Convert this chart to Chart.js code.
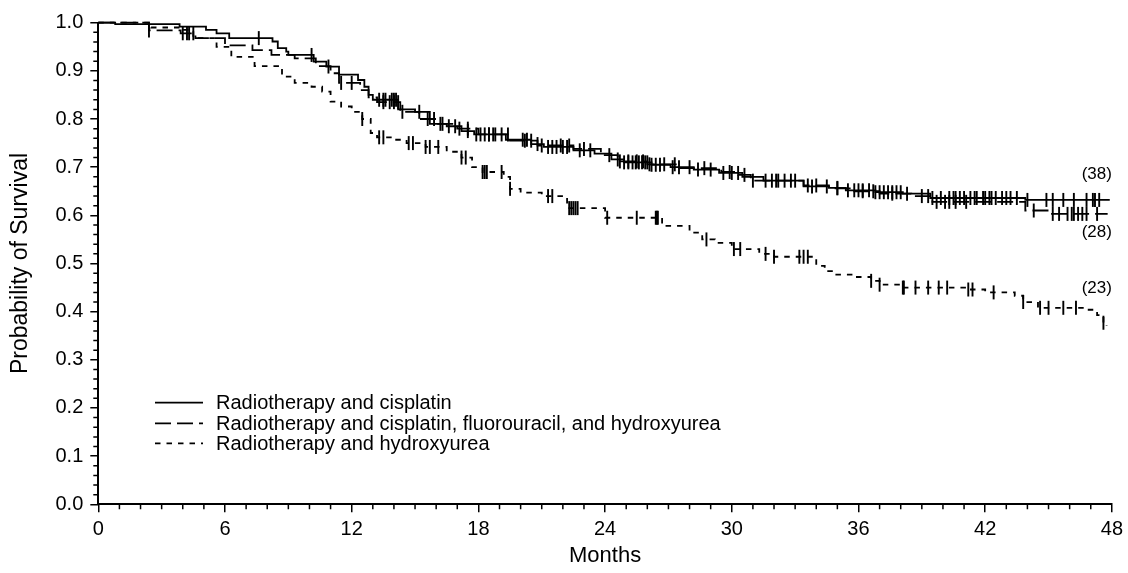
<!DOCTYPE html>
<html>
<head>
<meta charset="utf-8">
<script src="https://cdn.jsdelivr.net/npm/chart.js@4"></script>
<style>
  html, body { margin: 0; background: #fff; }
  #wrap { width: 1128px; height: 573px; position: relative; }
</style>
</head>
<body>
<div id="wrap"><canvas id="km"></canvas></div>
<script>
// Curvas de Kaplan-Meier (meses x probabilidade de sobrevida).
const grupos = [
  "Radiotherapy and cisplatin",
  "Radiotherapy and cisplatin, fluorouracil, and hydroxyurea",
  "Radiotherapy and hydroxyurea",
];

// cisplatina
const cisT = [0, 0.8, 3.85, 5.1, 5.6, 6.2, 8.25, 8.5, 8.9, 9.0, 10.2, 10.8, 11.4, 12.3, 12.6, 12.8, 13.0, 14.2, 15.0, 15.7, 16.5, 17.2, 17.8, 19.3, 20.5, 21.1, 22.5, 23.5, 24.3, 24.9, 26.2, 27.1, 28.2, 29.4, 30.5, 31.5, 33.4, 34.6, 35.4, 36.8, 38.1, 39.4, 43.9, 47.9];
const cisS = [1.0, 0.997, 0.992, 0.985, 0.978, 0.968, 0.961, 0.947, 0.94, 0.933, 0.919, 0.909, 0.892, 0.881, 0.867, 0.85, 0.84, 0.82, 0.815, 0.79, 0.785, 0.775, 0.768, 0.757, 0.748, 0.742, 0.735, 0.728, 0.716, 0.71, 0.705, 0.70, 0.695, 0.688, 0.68, 0.672, 0.66, 0.657, 0.652, 0.648, 0.645, 0.636, 0.632, 0.632];
const cisCens = [7.6, 10.1, 10.9, 13.3, 13.5, 13.6, 13.9, 14.0, 14.1, 15.2, 16.2, 16.6, 16.9, 17.5, 17.9, 18.1, 18.3, 18.5, 18.7, 19.1, 20.1, 20.3, 20.8, 21.3, 21.5, 21.7, 22.0, 22.2, 22.8, 23.3, 24.6, 24.9, 25.1, 25.3, 25.45, 25.6, 25.75, 25.9, 26.0, 26.2, 26.4, 26.6, 27.2, 27.5, 28.0, 28.4, 29.0, 29.6, 30.0, 30.3, 31.6, 31.9, 32.2, 32.5, 33.0, 33.8, 34.5, 35.0, 35.5, 35.8, 36.0, 36.2, 36.5, 36.8, 37.0, 37.2, 37.4, 37.6, 37.8, 38.0, 38.3, 39.5, 39.9, 40.3, 40.5, 40.6, 40.8, 41.0, 41.3, 41.5, 41.6, 41.9, 42.0, 42.2, 42.3, 42.5, 42.8, 43.0, 43.2, 43.5, 44.0, 44.9, 45.2, 45.7, 46.2, 46.8, 47.1, 47.2, 47.4];

// cisplatina + fluorouracil + hidroxiureia
const cfhT = [0, 2.4, 3.9, 4.6, 6.0, 7.3, 8.2, 9.3, 10.3, 11.0, 11.4, 12.4, 12.8, 13.2, 14.3, 15.2, 16.0, 17.0, 18.0, 19.5, 20.8, 22.5, 23.8, 24.6, 26.0, 27.5, 29.5, 30.3, 30.9, 33.4, 34.6, 35.8, 37.0, 38.5, 39.5, 43.9, 45.0, 47.8];
const cfhS = [1.0, 0.984, 0.978, 0.968, 0.953, 0.943, 0.933, 0.926, 0.91, 0.895, 0.875, 0.86, 0.845, 0.835, 0.815, 0.80, 0.79, 0.78, 0.768, 0.755, 0.745, 0.738, 0.725, 0.712, 0.706, 0.698, 0.69, 0.684, 0.672, 0.662, 0.656, 0.65, 0.645, 0.64, 0.628, 0.61, 0.603, 0.603];
const cfhCens = [2.4, 4.0, 4.2, 4.3, 4.5, 11.5, 12.0, 13.5, 13.8, 14.0, 14.2, 14.4, 15.6, 15.9, 16.3, 17.1, 17.5, 18.5, 18.8, 19.4, 20.2, 20.5, 21.0, 21.9, 22.3, 23.0, 24.2, 24.7, 25.1, 25.5, 25.8, 26.1, 26.8, 27.3, 28.7, 29.9, 30.6, 31.0, 32.1, 32.8, 33.6, 34.0, 35.0, 36.2, 36.7, 37.6, 39.0, 39.3, 39.7, 40.1, 40.3, 40.6, 41.1, 44.3, 45.2, 45.5, 45.9, 46.1, 46.2, 46.4, 46.6, 46.8, 47.3];

// hidroxiureia
const huT = [0, 2.5, 4.0, 4.5, 5.6, 6.3, 7.4, 8.7, 9.3, 10.1, 10.6, 11.0, 11.5, 12.0, 12.5, 12.9, 13.2, 13.9, 14.6, 15.5, 16.5, 17.2, 17.7, 18.2, 19.2, 19.5, 20.0, 21.0, 22.2, 24.0, 26.7, 28.0, 28.6, 29.2, 30.0, 31.3, 32.0, 34.0, 34.4, 34.9, 35.8, 36.6, 37.0, 38.0, 41.2, 42.0, 43.4, 43.8, 44.5, 46.8, 47.3, 47.6, 47.75];
const huS = [1.0, 0.99, 0.985, 0.968, 0.95, 0.929, 0.91, 0.888, 0.875, 0.867, 0.857, 0.836, 0.826, 0.815, 0.80, 0.771, 0.762, 0.757, 0.75, 0.742, 0.732, 0.72, 0.70, 0.69, 0.68, 0.655, 0.647, 0.64, 0.615, 0.595, 0.578, 0.564, 0.55, 0.543, 0.53, 0.52, 0.514, 0.495, 0.484, 0.477, 0.472, 0.464, 0.456, 0.45, 0.446, 0.44, 0.433, 0.42, 0.408, 0.404, 0.393, 0.377, 0.37];
const huCens = [12.5, 13.3, 13.5, 14.7, 14.9, 15.5, 15.7, 16.1, 17.2, 17.4, 18.2, 18.3, 18.4, 19.1, 19.5, 21.3, 21.5, 22.3, 22.4, 22.5, 22.6, 22.7, 24.1, 25.5, 26.4, 26.45, 26.5, 28.8, 30.1, 30.4, 31.6, 32.0, 33.2, 33.4, 33.6, 36.6, 37.0, 38.1, 38.15, 38.7, 39.3, 39.8, 40.2, 41.2, 41.4, 42.4, 43.8, 44.6, 45.0, 45.7, 46.3, 47.6];

// pacientes em risco no fim
const emRisco = ["(38)", "(28)", "(23)"];

const tracos = [[], [16, 6], [5.5, 6]];

const curva = (T, S) => T.map((t, i) => ({ x: t, y: S[i] }));
function sobrevAt(T, S, t) {
  let v = S[0];
  for (let i = 0; i < T.length; i++) if (T[i] <= t) v = S[i];
  return v;
}

function linhaKM(nome, T, S, dash) {
  return { label: nome, data: curva(T, S), borderColor: "#000", borderWidth: 1.8, borderDash: dash,
    stepped: true, pointRadius: 0, fill: false, clip: false };
}
function censuras(T, S, C) {
  return { label: "", data: C.map((t) => ({ x: t, y: sobrevAt(T, S, t) })), showLine: false,
    pointStyle: "line", rotation: 90, pointRadius: 7, pointBorderWidth: 1.9,
    borderColor: "#000", pointBorderColor: "#000", clip: false };
}

const extras = {
  id: "extras",
  afterDraw(chart, args, opts) {
    const { ctx, chartArea: a } = chart;
    const { x, y } = chart.scales;
    ctx.save();
    ctx.strokeStyle = "#000";
    ctx.lineWidth = 1.5;
    ctx.setLineDash([]);
    ctx.beginPath();
    for (let m = 0; m <= 48; m++) {
      if (m % 6 === 0) continue;
      const px = x.getPixelForValue(m);
      ctx.moveTo(px, a.bottom); ctx.lineTo(px, a.bottom + 5);
    }
    for (let k = 0; k <= 50; k++) {
      if (k % 5 === 0) continue;
      const py = y.getPixelForValue(k / 50);
      ctx.moveTo(a.left - 5, py); ctx.lineTo(a.left, py);
    }
    ctx.stroke();

    // legenda dentro da área
    ctx.font = "20px 'Liberation Sans', Arial, sans-serif";
    ctx.fillStyle = "#000";
    ctx.textBaseline = "middle";
    grupos.forEach((g, i) => {
      const ly = opts.legY[i];
      ctx.lineWidth = 1.8;
      ctx.setLineDash(tracos[i]);
      ctx.beginPath(); ctx.moveTo(opts.legX0, ly); ctx.lineTo(opts.legX1, ly); ctx.stroke();
      ctx.fillText(g, opts.legTx, ly + 1);
    });

    // números em risco
    ctx.font = "17px 'Liberation Sans', Arial, sans-serif";
    ctx.textAlign = "right";
    emRisco.forEach((t, i) => ctx.fillText(t, x.getPixelForValue(48), y.getPixelForValue(opts.riscoY[i])));
    ctx.restore();
  },
};

Chart.defaults.font.family = "'Liberation Sans', Arial, sans-serif";
Chart.defaults.color = "#000";

new Chart(document.getElementById("km"), {
  type: "line",
  data: {
    datasets: [
      linhaKM(grupos[0], cisT, cisS, tracos[0]),
      linhaKM(grupos[1], cfhT, cfhS, tracos[1]),
      linhaKM(grupos[2], huT, huS, tracos[2]),
      censuras(cisT, cisS, cisCens),
      censuras(cfhT, cfhS, cfhCens),
      censuras(huT, huS, huCens),
    ],
  },
  options: {
    responsive: true, maintainAspectRatio: false, animation: false,
    layout: { padding: { top: 22.7, right: 10.6, left: 0, bottom: 0 } },
    plugins: {
      legend: { display: false }, tooltip: { enabled: false },
      extras: { legX0: 155, legX1: 203, legTx: 216, legY: [402.7, 423.3, 443.3], riscoY: [0.685, 0.565, 0.448] },
    },
    scales: {
      x: {
        type: "linear", min: 0, max: 48,
        afterFit: (s) => { s.height = 68.7; },
        ticks: { stepSize: 6, font: { size: 20 }, padding: 5, maxRotation: 0, autoSkip: false },
        grid: { drawOnChartArea: false, drawTicks: true, tickLength: 8, color: "#000", lineWidth: 1.5 },
        border: { display: true, color: "#000", width: 2 },
        title: { display: true, text: "Months", font: { size: 22 }, padding: { top: 0, bottom: 4 } },
      },
      y: {
        min: 0, max: 1,
        afterFit: (s) => { s.width = 98.3; },
        ticks: { stepSize: 0.1, callback: (v) => v.toFixed(1), font: { size: 20 }, padding: 7 },
        grid: { drawOnChartArea: false, drawTicks: true, tickLength: 8, color: "#000", lineWidth: 1.5 },
        border: { display: true, color: "#000", width: 2 },
        title: { display: true, text: "Probability of Survival", font: { size: 23 }, padding: { top: 7, bottom: 0 } },
      },
    },
  },
  plugins: [extras],
});
</script>
</body>
</html>
